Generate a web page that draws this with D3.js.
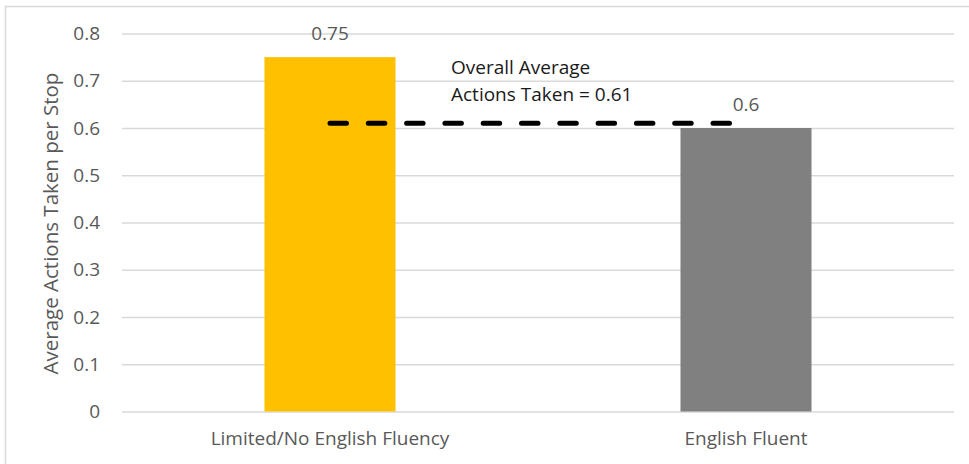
<!DOCTYPE html>
<html lang="en">

<head>
    <meta charset="UTF-8">
    <title>Average Actions Taken per Stop</title>
    <script src="https://cdn.jsdelivr.net/npm/d3@7"></script>
    <style>
        body { margin: 0; background: #fff; }
        svg { display: block; font-family: "Open Sans", sans-serif; }
    </style>
</head>

<body>
    <svg id="chart" width="969" height="464"></svg>

    <script>
        // chart data
        const categories = ['Limited/No English Fluency', 'English Fluent']
        const values = [0.75, 0.6]
        const barColors = ['#FFC000', '#808080']
        const yTicks = [0, 0.1, 0.2, 0.3, 0.4, 0.5, 0.6, 0.7, 0.8]
        const overallAverage = 0.61
        const noteLines = ['Overall Average', 'Actions Taken = 0.61']

        const svg = d3.select('#chart')
        const margin = { top: 33.5, right: 15, bottom: 52.5, left: 122 }
        const width = 969 - margin.left - margin.right
        const height = 464 - margin.top - margin.bottom
        const fontSize = '19px'

        // chart border (only top and left fall inside the picture)
        svg.append('rect')
            .attr('x', 5.5).attr('y', 6.5)
            .attr('width', 980).attr('height', 480)
            .attr('fill', 'none')
            .attr('stroke', '#d9d9d9')
            .attr('stroke-width', 1.5)

        const g = svg.append('g').attr('transform', `translate(${margin.left},${margin.top})`)

        const x = d3.scaleBand().domain(categories).range([0, width]).padding(0)
        const y = d3.scaleLinear().domain([0, 0.8]).range([height, 0])
        const barW = x.bandwidth() * 0.315

        // gridlines + y labels
        const yAxis = g.append('g')
            .call(d3.axisLeft(y).tickValues(yTicks).tickSize(-width).tickPadding(22)
                .tickFormat(d => d === 0 ? '0' : d3.format('.1f')(d)))
        yAxis.select('.domain').remove()
        yAxis.selectAll('.tick line').attr('stroke', '#d9d9d9').attr('stroke-width', 1.5)
        yAxis.selectAll('.tick text')
            .attr('fill', '#595959')
            .style('font-size', fontSize)
            .style('font-family', '"Open Sans", sans-serif')

        // x labels
        const xAxis = g.append('g')
            .attr('transform', `translate(0,${height})`)
            .call(d3.axisBottom(x).tickSize(0).tickPadding(20))
        xAxis.select('.domain').remove()
        xAxis.selectAll('.tick text')
            .attr('fill', '#595959')
            .style('font-size', fontSize)
            .style('font-family', '"Open Sans", sans-serif')

        // bars
        g.selectAll('rect.bar')
            .data(values)
            .join('rect')
            .attr('class', 'bar')
            .attr('x', (d, i) => x(categories[i]) + (x.bandwidth() - barW) / 2)
            .attr('y', d => y(d))
            .attr('width', barW)
            .attr('height', d => height - y(d))
            .attr('fill', (d, i) => barColors[i])

        // value labels
        g.selectAll('text.val')
            .data(values)
            .join('text')
            .attr('class', 'val')
            .attr('x', (d, i) => x(categories[i]) + x.bandwidth() / 2)
            .attr('y', d => y(d) - 17)
            .attr('text-anchor', 'middle')
            .attr('fill', '#595959')
            .style('font-size', fontSize)
            .text(d => d)

        // overall average dashed line
        const cx = categories.map(c => x(c) + x.bandwidth() / 2)
        g.append('line')
            .attr('x1', cx[0]).attr('x2', cx[1])
            .attr('y1', y(overallAverage)).attr('y2', y(overallAverage))
            .attr('stroke', '#000')
            .attr('stroke-width', 5)
            .attr('stroke-linecap', 'round')
            .attr('stroke-dasharray', '16.5 21.8')

        g.append('text')
            .attr('x', 451 - margin.left)
            .attr('y', 74 - margin.top)
            .attr('fill', '#1a1a1a')
            .style('font-size', fontSize)
            .selectAll('tspan')
            .data(noteLines)
            .join('tspan')
            .attr('x', 451 - margin.left)
            .attr('dy', (d, i) => i === 0 ? 0 : 27)
            .text(d => d)

        // y axis title
        svg.append('text')
            .attr('transform', `translate(58,${margin.top + height / 2 + 1}) rotate(-90)`)
            .attr('text-anchor', 'middle')
            .attr('fill', '#595959')
            .style('font-size', '20.5px')
            .text('Average Actions Taken per Stop')
    </script>
</body>

</html>
